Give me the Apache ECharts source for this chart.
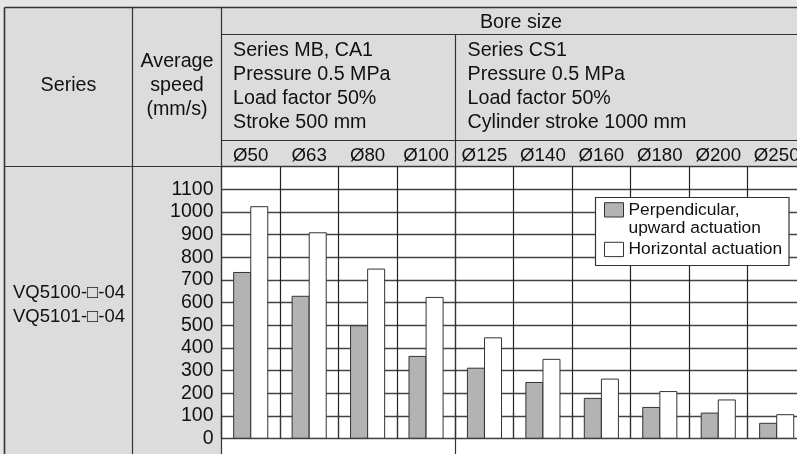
<!DOCTYPE html>
<html><head><meta charset="utf-8">
<script src="https://cdn.jsdelivr.net/npm/echarts@6/dist/echarts.min.js"></script>
<style>html,body{margin:0;padding:0;background:#e6e6e6}#c{width:797px;height:454px}</style>
</head><body><div id="c"></div>
<script>
// ---- data ----
const bores = ['Ø50','Ø63','Ø80','Ø100','Ø125','Ø140','Ø160','Ø180','Ø200','Ø250'];
const perpendicularUp = [735, 630, 500, 365, 313, 250, 180, 140, 115, 70];
const horizontal = [1025, 910, 750, 625, 447, 352, 265, 210, 173, 108];
const yTickLabels = [0, 100, 200, 300, 400, 500, 600, 700, 800, 900, 1000, 1100];
const seriesNames = ['Perpendicular,\nupward actuation', 'Horizontal actuation'];
const modelLabels = ['VQ5100-□-04', 'VQ5101-□-04'];
const condGroup1 = ['Series MB, CA1', 'Pressure 0.5 MPa', 'Load factor 50%', 'Stroke 500 mm'];
const condGroup2 = ['Series CS1', 'Pressure 0.5 MPa', 'Load factor 50%', 'Cylinder stroke 1000 mm'];
const headSeries = 'Series';
const headSpeed = ['Average', 'speed', '(mm/s)'];
const headBore = 'Bore size';

// ---- style / layout ----
const FONT = '"Liberation Sans", Arial, Helvetica, sans-serif';
const TXT = '#111';
const LINE = '#333';
const HEADFILL = '#dcdcdc';

const chart = echarts.init(document.getElementById('c'), null, {renderer: 'canvas'});

function ln(x1, y1, x2, y2, w) {
  return {type: 'line', z: 6, silent: true, shape: {x1, y1, x2, y2},
    style: {stroke: LINE, lineWidth: w || 1.2}};
}
function tx(text, x, y, align, size, lh) {
  return {type: 'text', z: 6, silent: true, x, y,
    style: {text, x: 0, y: 0, align, verticalAlign: 'middle', fill: TXT,
      font: size + 'px ' + FONT, lineHeight: lh || 24}};
}

const graphics = [
  {type: 'rect', z: -5, silent: true, shape: {x: 221.5, y: 7.5, width: 580, height: 159}, style: {fill: HEADFILL}},
  {type: 'rect', z: -5, silent: true, shape: {x: 4.5, y: 7.5, width: 217, height: 450}, style: {fill: HEADFILL}},
  {type: 'rect', z: -5, silent: true, shape: {x: 221.5, y: 166.5, width: 580, height: 290}, style: {fill: '#ffffff'}},
  {type: 'rect', z: 3, silent: true, shape: {x: 595.5, y: 197.5, width: 193.5, height: 68}, style: {fill: '#ffffff', stroke: LINE, lineWidth: 1.2}},
  ln(4.5, 7.5, 797, 7.5, 1.6),
  ln(4.5, 7.5, 4.5, 454, 1.6),
  ln(132.5, 7.5, 132.5, 454),
  ln(221.5, 7.5, 221.5, 454),
  ln(221.5, 34.5, 797, 34.5),
  ln(455.5, 34.5, 455.5, 454),
  ln(221.5, 140.5, 797, 140.5),
  ln(4.5, 166.5, 797, 166.5),
  tx(headSeries, 68.5, 86, 'center', 19.7),
  tx(headSpeed.join('\n'), 177, 86, 'center', 19.7),
  tx(headBore, 521, 22.5, 'center', 19.7),
  tx(condGroup1.join('\n'), 233, 87, 'left', 19.7),
  tx(condGroup2.join('\n'), 467.5, 87, 'left', 19.7),
  tx(modelLabels.join('\n'), 13, 305, 'left', 18.5)
];

chart.setOption({
  animation: false,
  backgroundColor: '#e6e6e6',
  textStyle: {fontFamily: FONT},
  grid: {left: 221.5, top: 166.5, width: 584.4, height: 272.2, outerBoundsMode: 'none', containLabel: false},
  legend: {
    show: true, orient: 'vertical', left: 604, top: 182.85, padding: 0, itemGap: 3.6,
    itemWidth: 19, itemHeight: 14.3, icon: 'rect', selectedMode: false,
    backgroundColor: 'transparent', borderWidth: 0,
    itemStyle: {borderColor: LINE, borderWidth: 1},
    textStyle: {fontSize: 17.4, lineHeight: 18, color: TXT, fontFamily: FONT},
    formatter: name => (name === seriesNames[0] ? '\n' + name : name),
    data: [seriesNames[0], seriesNames[1]]
  },
  xAxis: {
    type: 'category', data: bores, position: 'top', boundaryGap: true,
    axisLine: {show: false},
    axisTick: {show: true, interval: 0, length: 26, inside: false, lineStyle: {color: LINE, width: 1.2}},
    axisLabel: {interval: 0, fontSize: 18.7, margin: 11, verticalAlign: 'middle', color: TXT, fontFamily: FONT},
    splitLine: {show: true, interval: 0, lineStyle: {color: '#222', width: 1.2}},
    z: 1
  },
  yAxis: {
    type: 'value', min: 0, max: 1200, interval: 100,
    axisLine: {show: false}, axisTick: {show: false},
    axisLabel: {fontSize: 19.5, margin: 8, color: TXT, fontFamily: FONT,
      formatter: v => (yTickLabels.indexOf(v) >= 0 ? String(v) : '')},
    splitLine: {show: true, lineStyle: {color: '#444', width: 1.3}},
    z: 1
  },
  series: [
    {name: seriesNames[0], type: 'bar', data: perpendicularUp, barWidth: 18, barGap: '-5%',
      itemStyle: {color: '#b3b3b3', borderColor: LINE, borderWidth: 1}, emphasis: {disabled: true}, z: 2},
    {name: seriesNames[1], type: 'bar', data: horizontal, barWidth: 18, barGap: '-5%',
      itemStyle: {color: '#ffffff', borderColor: LINE, borderWidth: 1}, emphasis: {disabled: true}, z: 2}
  ],
  graphic: graphics
});
</script></body></html>
